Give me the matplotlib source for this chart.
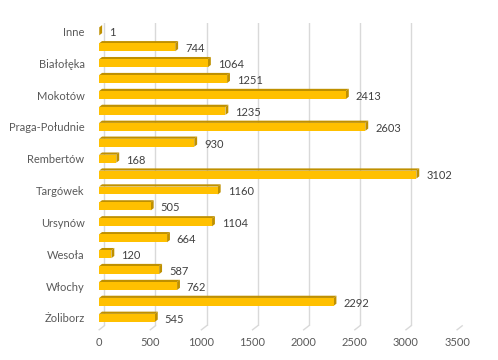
import matplotlib
matplotlib.use("Agg")
import matplotlib.pyplot as plt
from matplotlib.patches import Polygon
import numpy as np

districts = ["Inne", "Bemowo", "Białołęka", "Bielany", "Mokotów", "Ochota",
             "Praga-Południe", "Praga-Północ", "Rembertów", "Śródmieście",
             "Targówek", "Ursus", "Ursynów", "Wawer", "Wesoła", "Wilanów",
             "Włochy", "Wola", "Żoliborz"]
counts = [1, 744, 1064, 1251, 2413, 1235, 2603, 930, 168, 3102,
          1160, 505, 1104, 664, 120, 587, 762, 2292, 545]
x_ticks = [0, 500, 1000, 1500, 2000, 2500, 3000, 3500]

face = "#FFC000"
dark = "#BF9000"
text_col = "#404040"
tick_col = "#595959"
grid_col = "#D9D9D9"

plt.rcParams["font.family"] = ["Lato", "DejaVu Sans"]

fig = plt.figure(figsize=(4.98, 3.6), dpi=100)
ax = fig.add_axes([0.195, 0.095, 0.729, 0.84])

n = len(districts)
y = np.arange(n)
h = 0.5
# depth of the 3D effect in data units
dx = 28
dy = 0.14

for yi, v in zip(y, counts):
    # right face
    ax.add_patch(Polygon([(v, yi - h / 2), (v + dx, yi - h / 2 - dy),
                          (v + dx, yi + h / 2 - dy), (v, yi + h / 2)],
                         closed=True, facecolor=dark, edgecolor="none", zorder=3))
    # top face
    ax.add_patch(Polygon([(0, yi - h / 2), (dx, yi - h / 2 - dy),
                          (v + dx, yi - h / 2 - dy), (v, yi - h / 2)],
                         closed=True, facecolor=dark, edgecolor="none", zorder=3))

ax.barh(y, counts, height=h, color=face, edgecolor="none", zorder=4)

for yi, v in zip(y, counts):
    ax.annotate(str(v), (v + dx, yi), xytext=(5, -1), textcoords="offset points",
                va="center", ha="left", fontsize=8, color=text_col)

ax.set_xlim(-20, 3530)
ax.set_ylim(n - 0.5, -0.5)

# back wall gridlines with slanted floor lines
gx = 50
for t in x_ticks:
    ax.plot([t + gx, t + gx], [-0.5, n - 0.5], color=grid_col, lw=1, zorder=1)
    ax.plot([t + gx, t], [n - 0.5, n - 0.25], color=grid_col, lw=1,
            zorder=1, clip_on=False)

ax.set_xticks(x_ticks)
ax.set_xticklabels([str(t) for t in x_ticks])
ax.set_yticks(y)
ax.set_yticklabels([d if i % 2 == 0 else "" for i, d in enumerate(districts)])
ax.tick_params(axis="both", length=0, labelsize=8, colors=tick_col)
ax.tick_params(axis="x", pad=8)
ax.tick_params(axis="y", pad=9)

for s in ax.spines.values():
    s.set_visible(False)

fig.savefig("out.png", dpi=100)
